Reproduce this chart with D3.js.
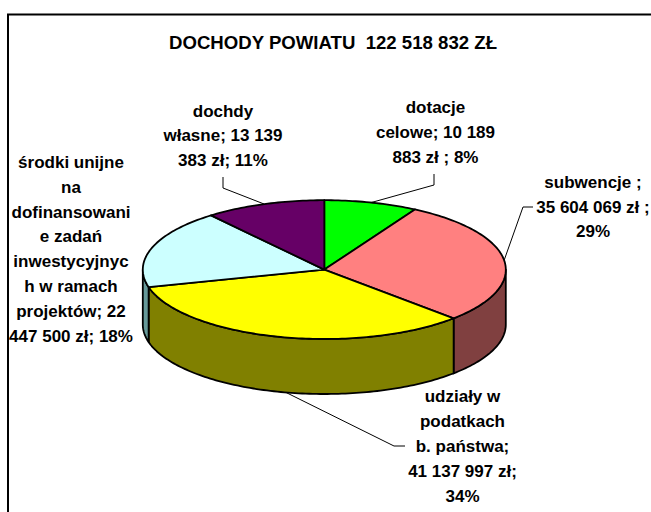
<!DOCTYPE html>
<html><head><meta charset="utf-8">
<style>html,body{margin:0;padding:0;background:#fff}svg{display:block}
text{font-family:"Liberation Sans",Arial,sans-serif;font-weight:bold;fill:#000}</style>
<script src="https://cdn.jsdelivr.net/npm/d3@7"></script></head><body>
<script>
const titleText = "DOCHODY POWIATU  122 518 832 ZŁ";
const categories = ["dotacje celowe","subwencje","udziały w podatkach b. państwa","środki unijne","dochdy własne"];
const values = [10189883,35604069,41137997,22447500,13139383];
const topColors = ["#00ff00","#ff8080","#ffff00","#ccffff","#660066"];
const sideColors = ["#008000","#804040","#808000","#669999","#330033"];
const labelLines = [
  ["dotacje","celowe; 10 189","883 zł ; 8%"],
  ["subwencje ;","35 604 069 zł ;","29%"],
  ["udziały w","podatkach","b. państwa;","41 137 997 zł;","34%"],
  ["środki unijne","na","dofinansowani","e zadań","inwestycyjnyc","h w ramach","projektów; 22","447 500 zł; 18%"],
  ["dochdy","własne; 13 139","383 zł; 11%"]
];
const W=651,H=512,cx=324.3,cy=269.6,rx=181.5,ry=69.4,depth=55;
const labelX=[435.5,593,462.5,71,223], labelY=[113,188,402,168,116.5], lineH=[25,24.5,24.9,24.8,24.6];
const elbows=[[[434,185],[434,174]],[[523,207],[533,207]],[[394,446],[405,446]],null,[[223,188],[223,177]]];

const svg=d3.select("body").append("svg").attr("width",W).attr("height",H);
svg.append("path").attr("d",d3.line()([[8,H],[8,14.5],[W,14.5]])).attr("fill","none").attr("stroke","#000").attr("stroke-width",2);
svg.append("text").attr("x",333).attr("y",49).attr("text-anchor","middle").attr("font-size",18).attr("textLength",328).attr("lengthAdjust","spacingAndGlyphs").attr("xml:space","preserve").style("white-space","pre").text(titleText);

const arcs=d3.pie().sort(null).startAngle(0).endAngle(2*Math.PI)(values);
const px=a=>cx+rx*Math.sin(a), py=a=>cy-ry*Math.cos(a);
function arcPts(a0,a1,dy){const n=Math.max(2,Math.ceil((a1-a0)/0.02));return d3.range(n+1).map(i=>{const a=a0+(a1-a0)*i/n;return [px(a),py(a)+dy];});}
const line=d3.line();
const gs=svg.append("g");
arcs.forEach((d,i)=>{
  const a0=Math.max(d.startAngle,Math.PI/2),a1=Math.min(d.endAngle,Math.PI*1.5);
  if(a1<=a0)return;
  const up=arcPts(a0,a1,0),dn=arcPts(a0,a1,depth).reverse();
  gs.append("path").attr("d",line(up.concat(dn))+"Z").attr("fill",sideColors[i]).attr("stroke","#000").attr("stroke-width",1.8).attr("stroke-linejoin","round");
});
const gt=svg.append("g");
arcs.forEach((d,i)=>{
  const pts=[[cx,cy]].concat(arcPts(d.startAngle,d.endAngle,0));
  gt.append("path").attr("d",line(pts)+"Z").attr("fill",topColors[i]).attr("stroke","#000").attr("stroke-width",1.8).attr("stroke-linejoin","round");
});
arcs.forEach((d,i)=>{
  if(!elbows[i])return;
  const m=(d.startAngle+d.endAngle)/2;
  const front=Math.cos(m)<-0.5;
  const start=[px(m)+(front?9:0),py(m)+(front?depth+1:0)];
  svg.append("path").attr("d",line([start].concat(elbows[i]))).attr("fill","none").attr("stroke","#000").attr("stroke-width",1);
});
labelLines.forEach((ls,i)=>{
  const t=svg.append("text").attr("text-anchor","middle").attr("font-size",17);
  ls.forEach((s,j)=>t.append("tspan").attr("x",labelX[i]).attr("y",labelY[i]+j*lineH[i]).text(s));
});
</script></body></html>
